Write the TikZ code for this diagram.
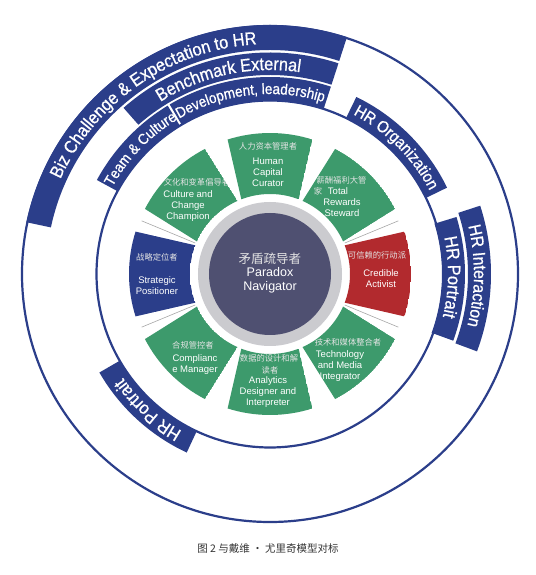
\documentclass[tikz,border=0pt]{standalone}
\usepackage{fontspec}
\setmainfont{Liberation Sans}
\newfontfamily\bandfont[FakeStretch=0.9,FakeBold=0.8]{Liberation Sans}
\newfontfamily\cjk{Noto Sans CJK SC}
\usetikzlibrary{decorations.text}
\definecolor{navy}{HTML}{2B3E8A}
\definecolor{segg}{HTML}{3D9A6C}
\definecolor{segr}{HTML}{B22A2E}
\definecolor{hub}{HTML}{4F5071}
\definecolor{ringgray}{HTML}{CBCBCF}
\definecolor{cjkgray}{HTML}{E4E4E4}
\definecolor{capgray}{HTML}{333333}
\newcommand\bandpath[4]{(#3:#2pt) arc[start angle=#3, end angle=#4, radius=#2pt] -- (#4:#1pt) arc[start angle=#4, end angle=#3, radius=#1pt] -- cycle}
\newcommand\segpath[1]{({#1-21}:80pt) -- ({#1-17.5}:141pt) arc[start angle={#1-17.5}, end angle={#1+17.5}, radius=141pt] -- ({#1+21}:80pt) arc[start angle={#1+21}, end angle={#1-21}, radius=80pt] -- cycle}
\tikzset{
  bandfill/.style={fill=navy},
  thinring/.style={draw=navy, line width=2.2pt},
  segtext/.style={text=white, font=\fontsize{9.5}{11}\selectfont, align=center, inner sep=0pt},
  cntext/.style={text=cjkgray, font=\cjk\fontsize{8.3}{10}\selectfont, inner sep=0pt},
  sepline/.style={draw=black!35, line width=0.6pt},
}
\begin{document}
\begin{tikzpicture}[x=1pt,y=1pt]
\useasboundingbox (-270,-301) rectangle (265,274);
% thin rings
\draw[thinring] (0,0) circle[radius=248pt];
\draw[thinring] (0,0) circle[radius=173.5pt];
% bands
\fill[bandfill] \bandpath{224}{249}{72}{168};
\fill[bandfill] \bandpath{199}{221.5}{72}{131.4};
\fill[bandfill] \bandpath{173}{197}{121.3}{151.5};
\fill[bandfill] \bandpath{173}{197}{72}{120.6};
\fill[bandfill] \bandpath{173}{197}{26}{64};
\fill[bandfill] \bandpath{198}{221}{-20.5}{18};
\fill[bandfill] \bandpath{172}{195}{-20}{17};
\fill[bandfill] \bandpath{173}{197}{210}{245};
% band texts
\path[decorate, decoration={text along path, text align=center, text color=white,
  text={|\bandfont\fontsize{18}{18}\selectfont|Biz Challenge {\&} Expectation to HR}}]
  (169.5:230pt) arc[start angle=169.5, end angle=79.5, radius=230pt];
\path[decorate, decoration={text along path, text align=center, text color=white,
  text={|\bandfont\fontsize{18}{18}\selectfont|Benchmark External}}]
  (137:204pt) arc[start angle=137, end angle=67, radius=204pt];
\path[decorate, decoration={text along path, text align=center, text color=white,
  text={|\bandfont\fontsize{15}{15}\selectfont|Team {\&} Culture}}]
  (166:180pt) arc[start angle=166, end angle=106, radius=180pt];
\begin{scope}
  \clip \bandpath{173}{197}{72}{120.6};
  \path[decorate, decoration={text along path, text align=left, text color=white,
    text={|\bandfont\fontsize{15}{15}\selectfont|Development, leadership}}]
    (120.3:180pt) arc[start angle=120.3, end angle=50, radius=180pt];
\end{scope}
\path[decorate, decoration={text along path, text align=center, text color=white,
  text={|\bandfont\fontsize{16.5}{16.5}\selectfont|HR Organization}}]
  (80:180pt) arc[start angle=80, end angle=10, radius=180pt];
\path[decorate, decoration={text along path, text align=center, text color=white,
  text={|\bandfont\fontsize{17.5}{17.5}\selectfont|HR Interaction}}]
  (34.5:204pt) arc[start angle=34.5, end angle=-35.5, radius=204pt];
\path[decorate, decoration={text along path, text align=center, text color=white,
  text={|\bandfont\fontsize{18}{18}\selectfont|HR Portrait}}]
  (34:178pt) arc[start angle=34, end angle=-36, radius=178pt];
\path[decorate, decoration={text along path, text align=center, text color=white,
  text={|\bandfont\fontsize{18}{18}\selectfont|HR Portrait}}]
  (263:180pt) arc[start angle=263, end angle=193, radius=180pt];
% hub
\fill[ringgray] (0,0) circle[radius=72pt];
\fill[hub] (0,0) circle[radius=61pt];
\node[cntext, text=cjkgray, font=\cjk\fontsize{12.5}{14}\selectfont] (hubcn) at (0,15) {矛盾疏导者};
\node[segtext, font=\fontsize{12.5}{14}\selectfont] (hubhub) at (0,-6) {Paradox\\Navigator};
% separators
\foreach \a in {22.5,157.5,202.5,337.5} \draw[sepline] (\a:81pt) -- (\a:139pt);
% segments
\begin{scope}
  \clip \segpath{90};
  \fill[segg] \segpath{90};
  \node[cntext] (s1cn) at (-2,128) {人力资本管理者};
  \node[segtext] (s1en) at (-2,102) {Human\\Capital\\Curator};
\end{scope}
\begin{scope}
  \clip \segpath{135};
  \fill[segg] \segpath{135};
  \node[cntext] (s2cn) at (-73,92) {文化和变革倡导者};
  \node[segtext] (s2en) at (-82,68) {Culture and\\Change\\Champion};
\end{scope}
\begin{scope}
  \clip \segpath{45};
  \fill[segg] \segpath{45};
  \node[cntext] (s3cn) at (71.5,94) {薪酬福利大管};
  \node[cntext] (s3cnb) at (48,83) {家};
  \node[segtext] (s3en) at (72,72) {\hspace*{-8pt}Total\\Rewards\\Steward};
\end{scope}
\begin{scope}
  \clip \segpath{0};
  \fill[segr] \segpath{0};
  \node[cntext] (s4cn) at (107,19) {可信赖的行动派};
  \node[segtext] (s4en) at (111,-4.5) {Credible\\Activist};
\end{scope}
\begin{scope}
  \clip \segpath{180};
  \fill[navy] \segpath{180};
  \node[cntext] (s5cn) at (-113,17) {战略定位者};
  \node[segtext] (s5en) at (-113,-11.5) {Strategic\\Positioner};
\end{scope}
\begin{scope}
  \clip \segpath{-45};
  \fill[segg] \segpath{-45};
  \node[cntext] (s6cn) at (78,-68) {技术和媒体整合者};
  \node[segtext] (s6en) at (70,-92) {Technology\\and Media\\Integrator};
\end{scope}
\begin{scope}
  \clip \segpath{-90};
  \fill[segg] \segpath{-90};
  \node[cntext] (s7cn) at (-1,-84) {数据的设计和解};
  \node[cntext] (s7cnb) at (0,-96) {读者};
  \node[segtext] (s7en) at (-2,-118) {Analytics\\Designer and\\Interpreter};
\end{scope}
\begin{scope}
  \clip \segpath{-135};
  \fill[segg] \segpath{-135};
  \node[cntext] (s8cn) at (-77,-71) {合规管控者};
  \node[segtext] (s8en) at (-75,-90.5) {Complianc\\e Manager};
\end{scope}
% caption
\node[text=capgray, font=\cjk\fontsize{10.5}{12}\selectfont, inner sep=0pt] (cap) at (-2,-275) {图 2 与戴维 • 尤里奇模型对标};
\end{tikzpicture}
\end{document}
